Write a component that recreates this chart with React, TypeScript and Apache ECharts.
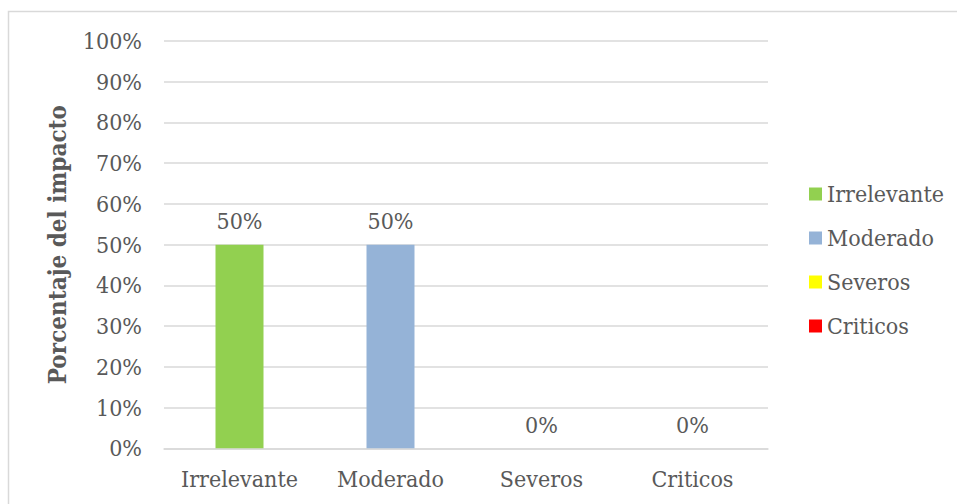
import React, { useEffect, useRef } from "react";
import * as echarts from "echarts";

const categories = ["Irrelevante", "Moderado", "Severos", "Criticos"];
const seriesNames = ["Irrelevante", "Moderado", "Severos", "Criticos"];
const values = [50, 50, 0, 0];
const colors = ["#92D050", "#95B3D7", "#FFFF00", "#FF0000"];
const yTicks = [0, 10, 20, 30, 40, 50, 60, 70, 80, 90, 100];
const yTitle = "Porcentaje del impacto";

const FONT = "'DejaVu Serif Condensed', 'DejaVu Serif', serif";
const TEXT = "#595959";

export default function App() {
  const ref = useRef<HTMLDivElement>(null);
  useEffect(() => {
    if (!ref.current) return;
    const chart = echarts.init(ref.current, undefined, { renderer: "svg" });
    const series = seriesNames.map((name, i) => ({
      name,
      type: "bar",
      stack: "total",
      barWidth: 48,
      itemStyle: { color: colors[i] },
      data: categories.map((_, j) => (j === i ? values[j] : "-")),
      label: {
        show: true,
        position: "top",
        distance: 12,
        formatter: "{c}%",
        color: TEXT,
        fontFamily: FONT,
        fontSize: 23,
      },
    }));
    chart.setOption({
      animation: false,
      textStyle: { fontFamily: FONT },
      graphic: [
        {
          type: "polyline",
          shape: { points: [[8.5, 504], [8.5, 11.5], [957, 11.5]] },
          style: { stroke: "#D9D9D9", lineWidth: 1.5, fill: "none" },
          silent: true,
        },
      ],
      legend: {
        orient: "vertical",
        left: 809,
        top: 182,
        padding: 0,
        itemWidth: 13,
        itemHeight: 13,
        itemGap: 20,
        icon: "rect",
        data: seriesNames,
        textStyle: { color: TEXT, fontFamily: FONT, fontSize: 23, lineHeight: 24 },
      },
      grid: { left: 164, right: 189, top: 41, bottom: 55.7, containLabel: false },
      xAxis: {
        type: "category",
        data: categories,
        axisLine: { show: true, lineStyle: { color: "#D9D9D9", width: 1.5 } },
        axisTick: { show: false },
        axisLabel: { color: TEXT, fontFamily: FONT, fontSize: 23, margin: 19, interval: 0 },
      },
      yAxis: {
        type: "value",
        min: yTicks[0],
        max: yTicks[yTicks.length - 1],
        interval: 10,
        axisLine: { show: false },
        axisTick: { show: false },
        splitLine: { lineStyle: { color: "#D9D9D9", width: 1.5 } },
        axisLabel: { color: TEXT, fontFamily: FONT, fontSize: 23, margin: 22, formatter: "{value}%" },
        name: yTitle,
        nameLocation: "middle",
        nameRotate: 90,
        nameGap: 95,
        nameTextStyle: { color: TEXT, fontFamily: FONT, fontSize: 24, fontWeight: "bold" },
      },
      series,
    });
    return () => chart.dispose();
  }, []);
  return (
    <div
      ref={ref}
      style={{ position: "fixed", left: 0, top: 0, width: 957, height: 504, background: "#fff" }}
    />
  );
}
